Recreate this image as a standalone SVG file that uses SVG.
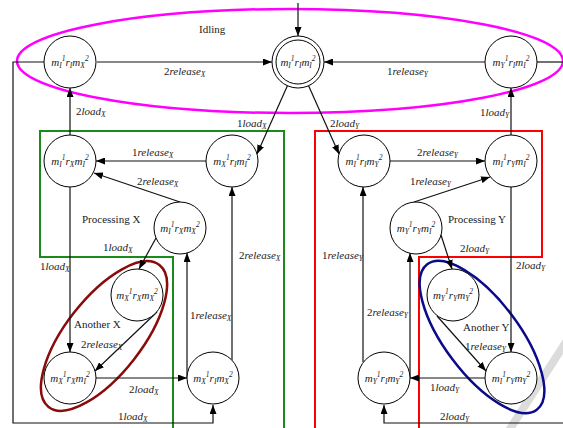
<svg xmlns="http://www.w3.org/2000/svg" width="563" height="428" viewBox="0 0 563 428">
<style>
.nd circle{fill:#fff;stroke:#000;stroke-width:1}
.n{font-family:"Liberation Serif","Times New Roman",serif;font-style:italic;font-size:11px;text-anchor:middle;fill:#222}
.s{font-size:7.5px}
.l{font-family:"Liberation Serif","Times New Roman",serif;font-size:11px;fill:#222}
.i{font-style:italic}
.t{font-family:"Liberation Serif","Times New Roman",serif;font-size:11px;fill:#222}
.e{fill:none;stroke:#111;stroke-width:1.2}
.a{marker-end:url(#ah)}
</style>
<defs>
<marker id="ah" markerUnits="userSpaceOnUse" markerWidth="9" markerHeight="7" refX="9" refY="3.5" orient="auto">
<path d="M0,0 L9,3.5 L0,7 z" fill="#000"/>
</marker>
</defs>
<rect width="563" height="428" fill="#fff"/>
<line x1="508" y1="432" x2="566" y2="342" stroke="#dcdcdc" stroke-width="8" stroke-linecap="round"/>

<g id="regions" fill="none">
<ellipse id="idling-region" cx="290" cy="61" rx="273" ry="52" stroke="#ff00ff" stroke-width="2.5"/>
<path id="processing-x" d="M173,430 L173,257 L40,257 L40,131 L284,131 L284,430" stroke="#1a8a1a" stroke-width="2"/>
<path id="processing-y" d="M315,430 L315,131 L542,131 L542,257 L419,257 L419,430" stroke="#ff0000" stroke-width="2"/>
<ellipse id="another-x" cx="104" cy="336" rx="90" ry="38" transform="rotate(-52 104 336)" stroke="#8b0a0a" stroke-width="2.5"/>
<ellipse id="another-y" cx="482" cy="337" rx="91" ry="37" transform="rotate(53 482 337)" stroke="#0a0a8b" stroke-width="2.5"/>
</g>

<g id="connectors">
<path class="e a" d="M298,3 L298,36"/>
<path class="e a" d="M97,62 L272,62"/>
<path class="e a" d="M485,62 L324,62"/>
<path class="e a" d="M44,62 L13,62 L13,423 L213,423 L213,405"/>
<path class="e" d="M537,62 L563,62"/>
<path class="e a" d="M564,423 L384,423 L384,405"/>
<path class="e a" d="M287.4,85.7 L257,154"/>
<path class="e a" d="M308.6,85.7 L339,154"/>
<path class="e a" d="M70,135 L70,88"/>
<path class="e a" d="M511,135 L511,88"/>
<path class="e a" d="M206,161 L96,161"/>
<path class="e a" d="M180,202 L94,173"/>
<path class="e a" d="M70,187 L70,352"/>
<path class="e a" d="M156,238 L139,269"/>
<path class="e a" d="M157,312 L95,371"/>
<path class="e a" d="M96,378 L187,378"/>
<path class="e a" d="M187,378 L187,253"/>
<path class="e a" d="M232,360 L232,187"/>
<path class="e a" d="M390,161 L485,161"/>
<path class="e a" d="M414,202 L490,177"/>
<path class="e a" d="M441,235 L452,269"/>
<path class="e a" d="M511,187 L511,352"/>
<path class="e a" d="M437,316 L486,371"/>
<path class="e a" d="M485,378 L410,378"/>
<path class="e a" d="M410,378 L410,253"/>
<path class="e a" d="M363,362 L363,187"/>
</g>

<g id="node-init" class="nd"><circle cx="298" cy="62" r="26"/><circle cx="298" cy="62" r="22"/>
<text class="n" x="298" y="66">m<tspan class="s" dy="2">I</tspan><tspan class="s" dy="-7">1</tspan><tspan dy="5">r</tspan><tspan class="s" dy="2">I</tspan><tspan dy="-2">m</tspan><tspan class="s" dy="2">I</tspan><tspan class="s" dy="-7">2</tspan></text></g>
<g id="node-A" class="nd"><circle cx="70" cy="62" r="26"/>
<text class="n" x="70" y="66">m<tspan class="s" dy="2">I</tspan><tspan class="s" dy="-7">1</tspan><tspan dy="5">r</tspan><tspan class="s" dy="2">I</tspan><tspan dy="-2">m</tspan><tspan class="s" dy="2">X</tspan><tspan class="s" dy="-7">2</tspan></text></g>
<g id="node-B" class="nd"><circle cx="511" cy="62" r="26"/>
<text class="n" x="511" y="66">m<tspan class="s" dy="2">Y</tspan><tspan class="s" dy="-7">1</tspan><tspan dy="5">r</tspan><tspan class="s" dy="2">I</tspan><tspan dy="-2">m</tspan><tspan class="s" dy="2">I</tspan><tspan class="s" dy="-7">2</tspan></text></g>
<g id="node-C" class="nd"><circle cx="70" cy="161" r="26"/>
<text class="n" x="70" y="165">m<tspan class="s" dy="2">I</tspan><tspan class="s" dy="-7">1</tspan><tspan dy="5">r</tspan><tspan class="s" dy="2">X</tspan><tspan dy="-2">m</tspan><tspan class="s" dy="2">I</tspan><tspan class="s" dy="-7">2</tspan></text></g>
<g id="node-D" class="nd"><circle cx="232" cy="161" r="26"/>
<text class="n" x="232" y="165">m<tspan class="s" dy="2">X</tspan><tspan class="s" dy="-7">1</tspan><tspan dy="5">r</tspan><tspan class="s" dy="2">I</tspan><tspan dy="-2">m</tspan><tspan class="s" dy="2">I</tspan><tspan class="s" dy="-7">2</tspan></text></g>
<g id="node-E" class="nd"><circle cx="180" cy="228" r="26"/>
<text class="n" x="180" y="232">m<tspan class="s" dy="2">I</tspan><tspan class="s" dy="-7">1</tspan><tspan dy="5">r</tspan><tspan class="s" dy="2">X</tspan><tspan dy="-2">m</tspan><tspan class="s" dy="2">X</tspan><tspan class="s" dy="-7">2</tspan></text></g>
<g id="node-F" class="nd"><circle cx="364" cy="161" r="26"/>
<text class="n" x="364" y="165">m<tspan class="s" dy="2">I</tspan><tspan class="s" dy="-7">1</tspan><tspan dy="5">r</tspan><tspan class="s" dy="2">I</tspan><tspan dy="-2">m</tspan><tspan class="s" dy="2">Y</tspan><tspan class="s" dy="-7">2</tspan></text></g>
<g id="node-G" class="nd"><circle cx="511" cy="161" r="26"/>
<text class="n" x="511" y="165">m<tspan class="s" dy="2">I</tspan><tspan class="s" dy="-7">1</tspan><tspan dy="5">r</tspan><tspan class="s" dy="2">Y</tspan><tspan dy="-2">m</tspan><tspan class="s" dy="2">I</tspan><tspan class="s" dy="-7">2</tspan></text></g>
<g id="node-H" class="nd"><circle cx="416" cy="228" r="26"/>
<text class="n" x="416" y="232">m<tspan class="s" dy="2">Y</tspan><tspan class="s" dy="-7">1</tspan><tspan dy="5">r</tspan><tspan class="s" dy="2">Y</tspan><tspan dy="-2">m</tspan><tspan class="s" dy="2">I</tspan><tspan class="s" dy="-7">2</tspan></text></g>
<g id="node-I" class="nd"><circle cx="137" cy="295" r="26"/>
<text class="n" x="137" y="299">m<tspan class="s" dy="2">X</tspan><tspan class="s" dy="-7">1</tspan><tspan dy="5">r</tspan><tspan class="s" dy="2">X</tspan><tspan dy="-2">m</tspan><tspan class="s" dy="2">X</tspan><tspan class="s" dy="-7">2</tspan></text></g>
<g id="node-J" class="nd"><circle cx="70" cy="378" r="26"/>
<text class="n" x="70" y="382">m<tspan class="s" dy="2">X</tspan><tspan class="s" dy="-7">1</tspan><tspan dy="5">r</tspan><tspan class="s" dy="2">X</tspan><tspan dy="-2">m</tspan><tspan class="s" dy="2">I</tspan><tspan class="s" dy="-7">2</tspan></text></g>
<g id="node-K" class="nd"><circle cx="213" cy="378" r="26"/>
<text class="n" x="213" y="382">m<tspan class="s" dy="2">X</tspan><tspan class="s" dy="-7">1</tspan><tspan dy="5">r</tspan><tspan class="s" dy="2">I</tspan><tspan dy="-2">m</tspan><tspan class="s" dy="2">X</tspan><tspan class="s" dy="-7">2</tspan></text></g>
<g id="node-L" class="nd"><circle cx="453" cy="295" r="26"/>
<text class="n" x="453" y="299">m<tspan class="s" dy="2">Y</tspan><tspan class="s" dy="-7">1</tspan><tspan dy="5">r</tspan><tspan class="s" dy="2">Y</tspan><tspan dy="-2">m</tspan><tspan class="s" dy="2">Y</tspan><tspan class="s" dy="-7">2</tspan></text></g>
<g id="node-M" class="nd"><circle cx="511" cy="378" r="26"/>
<text class="n" x="511" y="382">m<tspan class="s" dy="2">I</tspan><tspan class="s" dy="-7">1</tspan><tspan dy="5">r</tspan><tspan class="s" dy="2">Y</tspan><tspan dy="-2">m</tspan><tspan class="s" dy="2">Y</tspan><tspan class="s" dy="-7">2</tspan></text></g>
<g id="node-N" class="nd"><circle cx="384" cy="378" r="26"/>
<text class="n" x="384" y="382">m<tspan class="s" dy="2">Y</tspan><tspan class="s" dy="-7">1</tspan><tspan dy="5">r</tspan><tspan class="s" dy="2">I</tspan><tspan dy="-2">m</tspan><tspan class="s" dy="2">Y</tspan><tspan class="s" dy="-7">2</tspan></text></g>

<g id="region-labels">
<text class="t" x="199" y="33">Idling</text>
<text class="t" x="82" y="223">Processing X</text>
<text class="t" x="448" y="223">Processing Y</text>
<text class="t" x="74" y="328">Another X</text>
<text class="t" x="463" y="331">Another Y</text>
</g>

<g id="edge-labels">
<text class="l" x="164" y="75">2<tspan class="i">release</tspan><tspan class="s i" dy="2">X</tspan></text>
<text class="l" x="387" y="75">1<tspan class="i">release</tspan><tspan class="s i" dy="2">Y</tspan></text>
<text class="l" x="237" y="127">1<tspan class="i">load</tspan><tspan class="s i" dy="2">X</tspan></text>
<text class="l" x="330" y="127">2<tspan class="i">load</tspan><tspan class="s i" dy="2">Y</tspan></text>
<text class="l" x="76" y="115">2<tspan class="i">load</tspan><tspan class="s i" dy="2">X</tspan></text>
<text class="l" x="480" y="116">1<tspan class="i">load</tspan><tspan class="s i" dy="2">Y</tspan></text>
<text class="l" x="132" y="156">1<tspan class="i">release</tspan><tspan class="s i" dy="2">X</tspan></text>
<text class="l" x="137" y="185">2<tspan class="i">release</tspan><tspan class="s i" dy="2">X</tspan></text>
<text class="l" x="103" y="251">1<tspan class="i">load</tspan><tspan class="s i" dy="2">X</tspan></text>
<text class="l" x="40" y="270">1<tspan class="i">load</tspan><tspan class="s i" dy="2">X</tspan></text>
<text class="l" x="239" y="259">2<tspan class="i">release</tspan><tspan class="s i" dy="2">X</tspan></text>
<text class="l" x="81" y="348">2<tspan class="i">release</tspan><tspan class="s i" dy="2">X</tspan></text>
<text class="l" x="190" y="319">1<tspan class="i">release</tspan><tspan class="s i" dy="2">X</tspan></text>
<text class="l" x="129" y="393">2<tspan class="i">load</tspan><tspan class="s i" dy="2">X</tspan></text>
<text class="l" x="118" y="420">1<tspan class="i">load</tspan><tspan class="s i" dy="2">X</tspan></text>
<text class="l" x="417" y="156">2<tspan class="i">release</tspan><tspan class="s i" dy="2">Y</tspan></text>
<text class="l" x="410" y="185">1<tspan class="i">release</tspan><tspan class="s i" dy="2">Y</tspan></text>
<text class="l" x="460" y="252">2<tspan class="i">load</tspan><tspan class="s i" dy="2">Y</tspan></text>
<text class="l" x="322" y="259">1<tspan class="i">release</tspan><tspan class="s i" dy="2">Y</tspan></text>
<text class="l" x="516" y="269">2<tspan class="i">load</tspan><tspan class="s i" dy="2">Y</tspan></text>
<text class="l" x="367" y="316">2<tspan class="i">release</tspan><tspan class="s i" dy="2">Y</tspan></text>
<text class="l" x="465" y="350">1<tspan class="i">release</tspan><tspan class="s i" dy="2">Y</tspan></text>
<text class="l" x="430" y="391">1<tspan class="i">load</tspan><tspan class="s i" dy="2">Y</tspan></text>
<text class="l" x="440" y="420">2<tspan class="i">load</tspan><tspan class="s i" dy="2">Y</tspan></text>
</g>
</svg>
